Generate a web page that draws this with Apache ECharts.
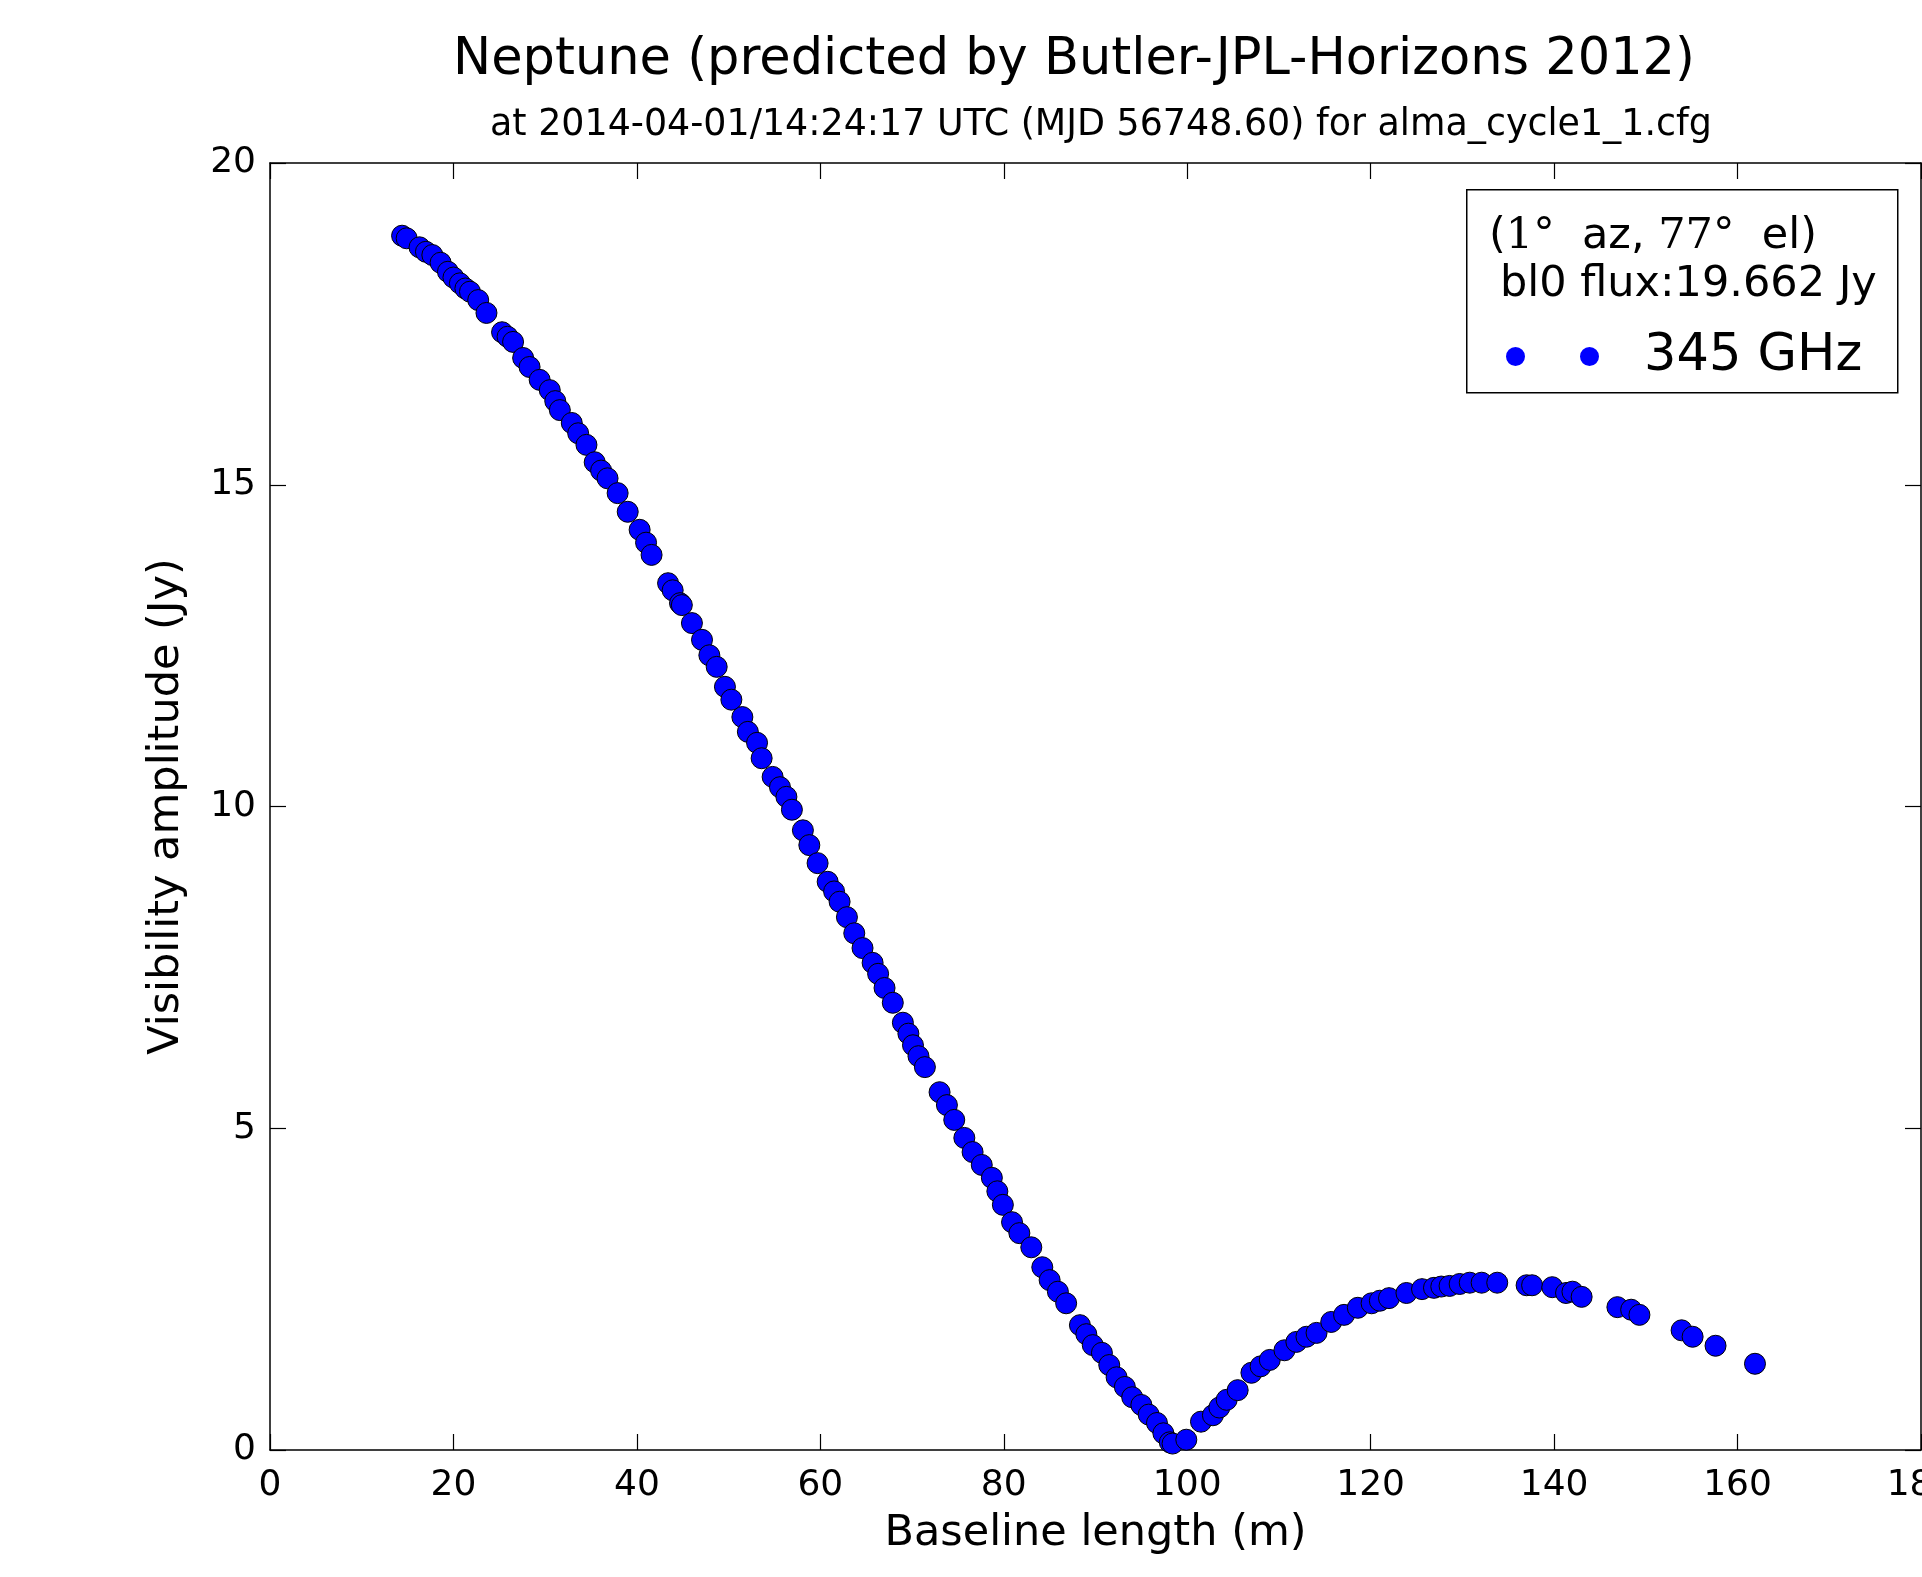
<!DOCTYPE html>
<html>
<head>
<meta charset="utf-8">
<script src="https://cdn.jsdelivr.net/npm/echarts@6/dist/echarts.min.js"></script>
<style>
html,body{margin:0;padding:0;background:#fff;}
#chart{width:1922px;height:1577px;}
</style>
</head>
<body>
<div id="chart"></div>
<script>
// Baseline length (m)
var baseline = [
  14.4,14.9,16.3,17.0,17.7,18.6,19.4,20.0,20.7,21.3,21.8,22.7,23.6,25.3,25.9,26.5,27.6,28.3,29.4,30.5,
  31.1,31.6,32.9,33.6,34.5,35.4,36.1,36.8,37.9,39.0,40.3,41.0,41.6,43.4,43.9,44.7,44.9,46.0,47.1,47.9,
  48.7,49.6,50.3,51.5,52.1,53.1,53.6,54.8,55.6,56.3,56.9,58.1,58.8,59.7,60.8,61.5,62.1,62.9,63.7,64.6,
  65.7,66.3,67.0,67.9,69.0,69.6,70.1,70.7,71.4,73.0,73.8,74.6,75.7,76.6,77.6,78.7,79.3,79.9,80.9,81.7,
  83.0,84.2,85.0,85.9,86.8,88.3,89.0,89.7,90.7,91.5,92.3,93.2,94.0,95.0,95.8,96.7,97.4,98.1,98.4,
  99.9,101.5,102.8,103.5,104.3,105.5,107.0,108.0,109.0,110.6,111.9,113.0,114.1,115.7,117.1,118.6,120.1,
  121.0,122.0,123.9,125.6,126.9,127.7,128.6,129.7,130.8,132.1,133.8,137.0,137.6,139.8,141.3,142.0,143.0,
  146.9,148.4,149.3,153.9,155.1,157.6,161.9
];
// Visibility amplitude (Jy)
var amplitude = [
  18.87,18.83,18.69,18.62,18.57,18.45,18.31,18.22,18.13,18.05,18.00,17.87,17.67,17.37,17.30,17.22,16.97,16.83,16.63,16.47,
  16.30,16.16,15.96,15.80,15.62,15.35,15.22,15.10,14.87,14.58,14.30,14.10,13.91,13.47,13.36,13.16,13.13,12.85,12.59,12.35,
  12.17,11.86,11.66,11.39,11.16,10.99,10.75,10.46,10.30,10.15,9.95,9.63,9.40,9.12,8.83,8.68,8.52,8.28,8.03,7.80,
  7.57,7.40,7.18,6.95,6.64,6.47,6.29,6.12,5.95,5.56,5.36,5.13,4.85,4.63,4.43,4.23,4.02,3.81,3.54,3.37,
  3.15,2.84,2.64,2.46,2.28,1.94,1.80,1.63,1.51,1.32,1.13,0.98,0.82,0.70,0.55,0.42,0.26,0.12,0.10,
  0.16,0.44,0.54,0.66,0.78,0.93,1.20,1.30,1.40,1.55,1.68,1.76,1.82,1.99,2.10,2.21,2.28,
  2.32,2.36,2.44,2.50,2.52,2.54,2.55,2.58,2.60,2.60,2.60,2.56,2.56,2.53,2.44,2.46,2.38,
  2.22,2.18,2.10,1.86,1.76,1.62,1.34
];
var xTicks = {min: 0, max: 180, interval: 20};
var yTicks = {min: 0, max: 20, interval: 5};
var seriesName = '345 GHz';
var titleText = 'Neptune (predicted by Butler-JPL-Horizons 2012)';
var subtitleText = 'at 2014-04-01/14:24:17 UTC (MJD 56748.60) for alma_cycle1_1.cfg';
var legendLine1 = ['(', '1', '°  az, ', '77', '°  el)'];
var legendLine2 = 'bl0 flux:19.662 Jy';

var FONT = 'DejaVu Sans';
var points = baseline.map(function (b, i) { return [b, amplitude[i]]; });

var chart = echarts.init(document.getElementById('chart'), null, {renderer: 'canvas'});
var axisCommon = {
  type: 'value',
  axisLine: {show: true, onZero: false, lineStyle: {color: '#000', width: 1.5}},
  axisTick: {show: true, inside: true, length: 16, lineStyle: {color: '#000', width: 1.2}},
  splitLine: {show: false}
};
var option = {
  backgroundColor: '#fff',
  animation: false,
  title: [
    {text: titleText, left: 1069, top: 30, textAlign: 'center',
     textStyle: {fontFamily: FONT, fontSize: 51, fontWeight: 'normal', color: '#000'}},
    {text: subtitleText, left: 1096, top: 103, textAlign: 'center',
     textStyle: {fontFamily: FONT, fontSize: 36.4, fontWeight: 'normal', color: '#000'}}
  ],
  grid: {left: 270, right: 1, top: 163, bottom: 127, containLabel: false, outerBoundsMode: 'none'},
  xAxis: [
    Object.assign({}, axisCommon, {
      position: 'bottom', min: xTicks.min, max: xTicks.max, interval: xTicks.interval,
      name: 'Baseline length (m)', nameLocation: 'middle', nameGap: 62,
      nameTextStyle: {fontFamily: FONT, fontSize: 43, color: '#000'},
      axisLabel: {show: true, margin: 18, fontFamily: FONT, fontSize: 36, color: '#000'}
    }),
    Object.assign({}, axisCommon, {
      position: 'top', min: xTicks.min, max: xTicks.max, interval: xTicks.interval,
      axisLabel: {show: false}
    })
  ],
  yAxis: [
    Object.assign({}, axisCommon, {
      position: 'left', min: yTicks.min, max: yTicks.max, interval: yTicks.interval,
      name: 'Visibility amplitude (Jy)', nameLocation: 'middle', nameGap: 82,
      nameTextStyle: {fontFamily: FONT, fontSize: 43, color: '#000'},
      axisLabel: {show: true, margin: 14, fontFamily: FONT, fontSize: 36, color: '#000'}
    }),
    Object.assign({}, axisCommon, {
      position: 'right', min: yTicks.min, max: yTicks.max, interval: yTicks.interval,
      axisLabel: {show: false}
    })
  ],
  legend: {
    show: true, left: 1506, top: 331, padding: 0, z: 100, zlevel: 0,
    itemWidth: 93, itemHeight: 19,
    icon: 'path://M0,9.5A9.5,9.5,0,1,0,19,9.5A9.5,9.5,0,1,0,0,9.5ZM74,9.5A9.5,9.5,0,1,0,93,9.5A9.5,9.5,0,1,0,74,9.5Z',
    itemStyle: {color: '#0000ff', borderWidth: 0},
    textStyle: {fontFamily: FONT, fontSize: 51, color: '#000', padding: [0, 0, 0, 40]},
    data: [seriesName],
    selectedMode: false
  },
  graphic: [
    {type: 'rect', left: 1466, top: 189, z: 5,
     shape: {width: 431, height: 203},
     style: {fill: '#fff', stroke: '#000', lineWidth: 1.5}},
    {type: 'text', left: 1489, top: 215, z: 6,
     style: {
       text: '{s|' + legendLine1[0] + '}{m|' + legendLine1[1] + '}{s|' + legendLine1[2] + '}{m|' + legendLine1[3] + '}{s|' + legendLine1[4] + '}',
       rich: {
         s: {fontFamily: FONT, fontSize: 43, fill: '#000'},
         m: {fontFamily: 'DejaVu Serif', fontSize: 43, fill: '#000'}
       }
     }},
    {type: 'text', left: 1500, top: 263, z: 6,
     style: {text: legendLine2, fontFamily: FONT, fontSize: 43, fill: '#000'}}
  ],
  series: [{
    name: seriesName,
    type: 'scatter',
    xAxisIndex: 0, yAxisIndex: 0,
    symbol: 'circle',
    symbolSize: 21,
    itemStyle: {color: '#0000ff', borderColor: '#000', borderWidth: 1, opacity: 1},
    data: points,
    z: 3
  }]
};
chart.setOption(option);
</script>
</body>
</html>
